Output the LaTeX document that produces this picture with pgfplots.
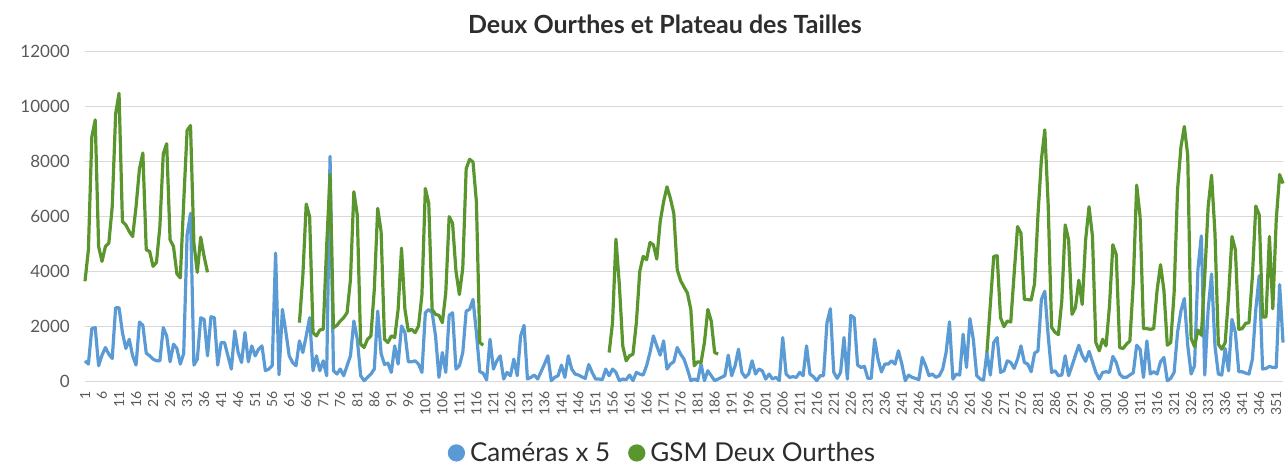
\documentclass[border=0pt]{standalone}
\usepackage{fontspec}
\setmainfont{Lato}
\usepackage{pgfplots}
\usepackage{pgfplotstable}
\pgfplotsset{compat=1.18}
\definecolor{camblue}{RGB}{91,155,213}
\definecolor{gsmgreen}{RGB}{90,150,45}
\definecolor{gridgray}{RGB}{217,217,217}
\definecolor{labgray}{RGB}{89,89,89}
\definecolor{titlegray}{RGB}{45,45,45}

\pgfplotstableread{
d cam gsm
1 735 3627
2 615 4772
3 1904 8869
4 1940 9495
5 554 4892
6 940 4350
7 1217 4892
8 976 5013
9 819 6338
10 2663 9712
11 2663 10459
12 1759 5796
13 1181 5676
14 1518 5435
15 916 5254
16 578 6338
17 2145 7713
18 2024 8290
19 1012 4772
20 916 4712
21 795 4170
22 735 4314
23 735 5615
24 1940 8266
25 1639 8628
26 699 5133
27 1338 4892
28 1181 3900
29 615 3750
30 1000 6500
31 5314 9110
32 6097 9290
33 578 5013
34 795 3952
35 2302 5230
36 2241 4530
37 916 3952
38 2338 nan
39 2302 nan
40 578 nan
41 1398 nan
42 1398 nan
43 916 nan
44 434 nan
45 1820 nan
46 1036 nan
47 675 nan
48 1759 nan
49 699 nan
50 1277 nan
51 916 nan
52 1157 nan
53 1277 nan
54 374 nan
55 434 nan
56 554 nan
57 4651 nan
58 230 nan
59 2603 nan
60 1800 nan
61 916 nan
62 675 nan
63 554 nan
64 1458 2121
65 1036 3808
66 1639 6435
67 2302 5977
68 374 1759
69 916 1639
70 374 1856
71 735 1880
72 193 4892
73 8170 7507
74 374 1940
75 253 2024
76 434 2181
77 193 2302
78 554 2482
79 916 3687
80 2181 6881
81 1518 6037
82 193 1338
83 12 1217
84 133 1518
85 253 1639
86 434 3326
87 2543 6278
88 1000 5435
89 600 1518
90 650 1398
91 313 1639
92 1277 1579
93 615 2603
94 2000 4832
95 1759 2603
96 699 1820
97 699 1880
98 735 1759
99 615 2000
100 313 3145
101 2483 7001
102 2603 6459
103 2483 2603
104 1639 2422
105 133 2386
106 1036 2121
107 313 3205
108 2386 5977
109 2483 5736
110 434 3989
111 554 3145
112 1036 4109
113 2543 7724
114 2603 8061
115 2965 7965
116 1759 6519
117 337 1398
118 280 1301
119 40 nan
120 1518 nan
121 434 nan
122 735 nan
123 916 nan
124 72 nan
125 313 nan
126 193 nan
127 795 nan
128 193 nan
129 1639 nan
130 2024 nan
131 72 nan
132 133 nan
133 217 nan
134 72 nan
135 337 nan
136 615 nan
137 916 nan
138 12 nan
139 133 nan
140 193 nan
141 578 nan
142 133 nan
143 916 nan
144 434 nan
145 253 nan
146 217 nan
147 150 nan
148 96 nan
149 600 nan
150 313 nan
151 72 nan
152 72 nan
153 48 nan
154 434 nan
155 193 1036
156 434 2121
157 313 5157
158 12 3506
159 72 1277
160 48 735
161 217 916
162 12 976
163 313 2121
164 253 3989
165 217 4531
166 554 4410
167 1036 5037
168 1639 4953
169 1277 4435
170 940 5796
171 1458 6519
172 434 7061
173 615 6640
174 699 6097
175 1217 4049
176 976 3650
177 795 3420
178 434 3200
179 12 2603
180 72 554
181 12 699
182 615 675
183 12 1398
184 373 2603
185 193 2181
186 12 1036
187 72 976
188 133 nan
189 193 nan
190 940 nan
191 193 nan
192 554 nan
193 1157 nan
194 313 nan
195 133 nan
196 253 nan
197 735 nan
198 253 nan
199 434 nan
200 373 nan
201 72 nan
202 253 nan
203 72 nan
204 133 nan
205 12 nan
206 1578 nan
207 250 nan
208 133 nan
209 157 nan
210 133 nan
211 313 nan
212 193 nan
213 1277 nan
214 253 nan
215 157 nan
216 12 nan
217 193 nan
218 193 nan
219 2121 nan
220 2627 nan
221 313 nan
222 96 nan
223 313 nan
224 1578 nan
225 72 nan
226 2386 nan
227 2302 nan
228 578 nan
229 494 nan
230 530 nan
231 96 nan
232 96 nan
233 1518 nan
234 795 nan
235 330 nan
236 615 nan
237 615 nan
238 735 nan
239 615 nan
240 1098 nan
241 615 nan
242 12 nan
243 217 nan
244 133 nan
245 96 nan
246 48 nan
247 855 nan
248 554 nan
249 193 nan
250 253 nan
251 133 nan
252 193 nan
253 434 nan
254 1036 nan
255 2150 nan
256 72 nan
257 253 nan
258 217 nan
259 1699 nan
260 494 nan
261 2266 nan
262 1518 nan
263 193 nan
264 72 nan
265 30 nan
266 1036 1036
267 217 2780
268 1398 4531
269 1578 4555
270 313 2302
271 373 1976
272 735 2181
273 675 2145
274 458 3904
275 795 5615
276 1277 5374
277 675 2964
278 615 2964
279 337 2940
280 1012 3543
281 1096 6037
282 2964 8049
283 3265 9133
284 1639 6398
285 313 1952
286 373 1771
287 193 1687
288 217 2916
289 916 5675
290 193 5133
291 554 2423
292 940 2664
293 1300 3663
294 930 2784
295 715 5133
296 1080 6338
297 699 5278
298 313 1398
299 72 1096
300 313 1518
301 337 1277
302 313 2712
303 892 4953
304 675 4591
305 253 1217
306 133 1181
307 133 1337
308 217 1458
309 300 3567
310 1301 7122
311 1157 5977
312 133 1904
313 1458 1904
314 253 1880
315 337 1904
316 253 3300
317 699 4230
318 855 3302
319 12 1301
320 96 1398
321 313 3205
322 1759 6941
323 2550 8507
324 3000 9254
325 1300 8205
326 253 1555
327 554 1253
328 4073 1856
329 5278 1663
330 217 3808
331 2603 6338
332 3892 7483
333 1277 5374
334 253 1337
335 217 1157
336 1181 1398
337 373 3085
338 2241 5254
339 1759 4772
340 337 1880
341 337 1904
342 289 2097
343 253 2121
344 795 3808
345 2603 6362
346 3832 6037
347 434 2326
348 458 2326
349 530 5254
350 494 2627
351 494 5856
352 3507 7507
353 1398 7182
}\datatable

\begin{document}
\begin{tikzpicture}
\useasboundingbox (-85pt,-86pt) rectangle (1202pt,381pt);
\begin{axis}[
  scale only axis, width=1198pt, height=330pt,
  xmin=1, xmax=353, ymin=0, ymax=12000,
  xtick={1,6,...,351}, ytick={0,2000,...,12000},
  scaled y ticks=false,
  ymajorgrids, grid style={gridgray, line width=1pt},
  axis line style={draw=none}, major tick length=0pt,
  clip=false, unbounded coords=jump,
  /pgf/number format/assume math mode=true,
  /pgf/number format/1000 sep={},
  yticklabel style={font=\fontsize{17}{17}\selectfont, text=labgray, anchor=east, inner sep=0pt},
  yticklabel shift=15pt,
  xticklabel style={font=\fontsize{14}{14}\selectfont, text=labgray, rotate=90, anchor=east, inner sep=0pt},
  xticklabel shift=10pt,
  title={Deux Ourthes et Plateau des Tailles},
  title style={at={(0.484,1.062)}, anchor=center, font=\fontsize{25}{25}\selectfont\bfseries, text=titlegray},
  legend columns=2,
  legend style={at={(0.482,-0.218)}, anchor=center, draw=none, fill=none,
    font=\fontsize{26}{26}\selectfont, text=titlegray,
    /tikz/every even column/.append style={column sep=16pt}},
  legend image code/.code={\fill[#1] (0pt,0pt) circle (7pt); \path (10pt,0pt);},
]
\addplot[camblue, line width=3.2pt, line join=round] table[x=d, y=cam] {\datatable};
\addlegendentry{Caméras x 5}
\addplot[gsmgreen, line width=3.2pt, line join=round] table[x=d, y=gsm] {\datatable};
\addlegendentry{GSM Deux Ourthes}
\end{axis}
\end{tikzpicture}
\end{document}
